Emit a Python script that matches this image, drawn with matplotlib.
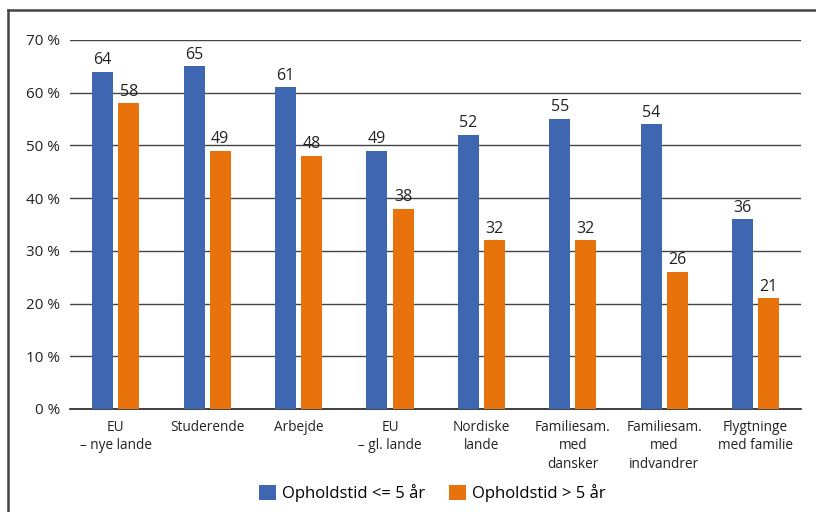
import numpy as np
import matplotlib.pyplot as plt
from matplotlib.lines import Line2D

categories = ["EU\n\u2013 nye lande", "Studerende", "Arbejde", "EU\n\u2013 gl. lande",
              "Nordiske\nlande", "Familiesam.\nmed\ndansker", "Familiesam.\nmed\nindvandrer",
              "Flygtninge\nmed familie"]
short_stay = [64, 65, 61, 49, 52, 55, 54, 36]
long_stay = [58, 49, 48, 38, 32, 32, 26, 21]
series_names = ["Opholdstid <= 5 \u00e5r", "Opholdstid > 5 \u00e5r"]
yticks = [0, 10, 20, 30, 40, 50, 60, 70]

blue = "#3f66b0"
orange = "#e8730c"

plt.rcParams['font.family'] = ['Open Sans', 'DejaVu Sans']
plt.rcParams['font.size'] = 10

fig = plt.figure(figsize=(8.16, 5.12), dpi=100)
ax = fig.add_axes([0.0858, 0.2012, 0.8963, 0.7207])

x = np.arange(len(categories))
w = 0.23
off = 0.143
b1 = ax.bar(x - off, short_stay, w, color=blue, label=series_names[0], zorder=3)
b2 = ax.bar(x + off, long_stay, w, color=orange, label=series_names[1], zorder=3)

for bars, vals in ((b1, short_stay), (b2, long_stay)):
    for r, v in zip(bars, vals):
        ax.text(r.get_x() + r.get_width() / 2, v + 0.7, str(v), ha='center', va='bottom',
                fontsize=11.5, color='#222222')

ax.set_xlim(-0.5, len(categories) - 0.5)
ax.set_ylim(0, 70)
ax.set_yticks(yticks)
ax.set_yticklabels(["%d %%" % t for t in yticks], fontsize=11, color='#222222')
ax.set_xticks(x)
ax.set_xticklabels(categories, fontsize=9.8, color='#222222', linespacing=1.3)
ax.tick_params(length=0)
ax.tick_params(axis='y', pad=7)
ax.tick_params(axis='x', pad=8)
ax.yaxis.grid(True, color='#444444', linewidth=1.0, zorder=0)
for s in ['top', 'right', 'left']:
    ax.spines[s].set_visible(False)
ax.spines['bottom'].set_color('#222222')
ax.spines['bottom'].set_linewidth(1.2)

fig.legend(handles=[b1, b2], loc='lower center', bbox_to_anchor=(0.53, -0.01), ncol=2,
           frameon=False, fontsize=12, handlelength=1.0, handleheight=1.0,
           columnspacing=1.4, handletextpad=0.4)

# outer frame
fig.add_artist(Line2D([0.0098, 1.0], [0.980, 0.980], color='#444444', linewidth=1.8))
fig.add_artist(Line2D([0.0098, 0.0098], [0.0, 0.980], color='#444444', linewidth=1.8))

fig.savefig("out.png", dpi=100)
